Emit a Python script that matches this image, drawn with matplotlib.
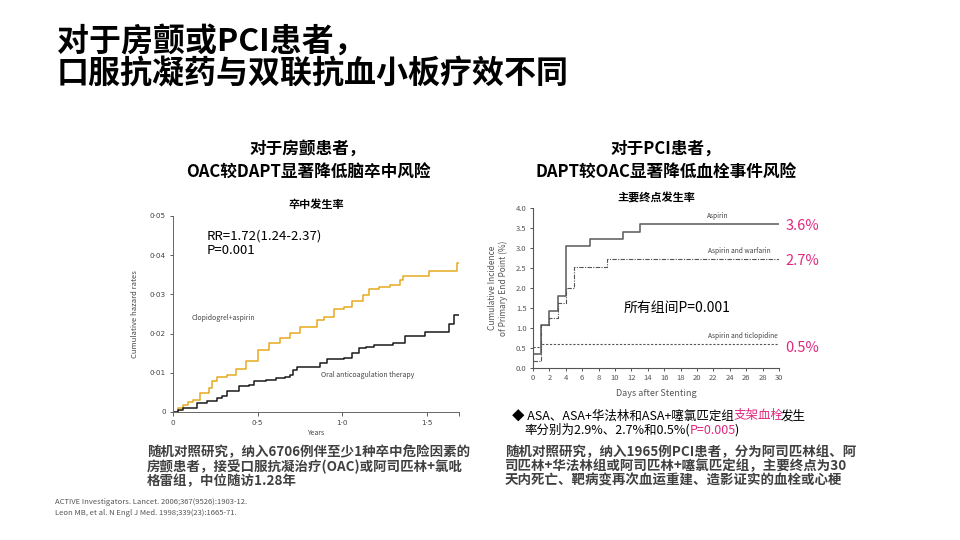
import matplotlib
matplotlib.use('Agg')
import matplotlib.pyplot as plt

plt.rcParams['font.family'] = ['Noto Sans CJK SC', 'DejaVu Sans']

# Left chart: cumulative hazard of stroke (years)
years_ca = [0, 0.03, 0.06, 0.09, 0.12, 0.16, 0.21, 0.23, 0.26, 0.32, 0.37, 0.43, 0.50, 0.57,
            0.63, 0.69, 0.75, 0.85, 0.89, 0.95, 1.01, 1.06, 1.12, 1.16, 1.22, 1.28, 1.34,
            1.36, 1.51, 1.68, 1.69]
rate_ca = [0, 0.001, 0.0018, 0.0025, 0.0031, 0.0048, 0.006, 0.0078, 0.009, 0.0095, 0.011,
           0.0129, 0.0158, 0.0175, 0.0188, 0.0201, 0.0218, 0.0235, 0.0243, 0.0264, 0.0269,
           0.0284, 0.0298, 0.0315, 0.032, 0.0324, 0.0336, 0.0347, 0.036, 0.0381, 0.0381]
years_oac = [0, 0.03, 0.06, 0.14, 0.20, 0.26, 0.29, 0.32, 0.39, 0.45, 0.48, 0.55, 0.61, 0.66,
             0.69, 0.71, 0.73, 0.87, 0.91, 1.01, 1.06, 1.10, 1.14, 1.19, 1.30, 1.37, 1.49,
             1.63, 1.66, 1.69]
rate_oac = [0, 0.0006, 0.001, 0.0023, 0.0029, 0.0036, 0.004, 0.0053, 0.0067, 0.007, 0.0078,
            0.0082, 0.0086, 0.009, 0.0095, 0.0108, 0.0116, 0.0125, 0.0135, 0.0137, 0.015,
            0.0163, 0.0167, 0.0172, 0.0175, 0.0193, 0.0203, 0.0225, 0.0247, 0.0247]

# Right chart: cumulative incidence of primary end point (days)
days_asa = [0, 1, 2, 3, 4, 7, 11, 13, 30]
inc_asa = [0.35, 1.08, 1.43, 1.80, 3.05, 3.23, 3.41, 3.60, 3.60]
days_war = [0, 1, 2, 3, 4, 5, 9, 30]
inc_war = [0.17, 1.07, 1.25, 1.63, 2.00, 2.53, 2.72, 2.72]
days_tic = [0, 1, 30]
inc_tic = [0.53, 0.59, 0.59]

left_yticks = [0, 0.01, 0.02, 0.03, 0.04, 0.05]
left_yticklabels = ['0', '0·01', '0·02', '0·03', '0·04', '0·05']
left_xticks = [0, 0.5, 1.0, 1.5]
left_xticklabels = ['0', '0·5', '1·0', '1·5']
right_yticks = [0, 0.5, 1.0, 1.5, 2.0, 2.5, 3.0, 3.5, 4.0]
right_xticks = list(range(0, 31, 2))
pct_labels = ['3.6%', '2.7%', '0.5%']

magenta = '#E0287F'
grey = '#555555'
latin = ['DejaVu Sans']

fig = plt.figure(figsize=(9.6, 5.4), dpi=100)
fig.patch.set_facecolor('white')


def px(x, y):
    return x / 960, 1 - y / 540


# Main title
fig.text(*px(57, 42), '对于房颤或PCI患者，', fontsize=23, fontweight='bold', va='center', color='black')
fig.text(*px(57, 75), '口服抗凝药与双联抗血小板疗效不同', fontsize=23, fontweight='bold', va='center', color='black')

# Section headings
fig.text(*px(308, 149), '对于房颤患者，', fontsize=12, fontweight='bold', ha='center', va='center')
fig.text(*px(308, 173), 'OAC较DAPT显著降低脑卒中风险', fontsize=12, fontweight='bold', ha='center', va='center')
fig.text(*px(666, 149), '对于PCI患者，', fontsize=12, fontweight='bold', ha='center', va='center')
fig.text(*px(666, 173), 'DAPT较OAC显著降低血栓事件风险', fontsize=12, fontweight='bold', ha='center', va='center')

# ---------------- Left chart ----------------
ax1 = fig.add_axes([173 / 960, 1 - 412 / 540, 286 / 960, 196 / 540])
ax1.step(years_ca, rate_ca, where='post', color='#E6AA1E', lw=1.1)
ax1.step(years_oac, rate_oac, where='post', color='#1a1a1a', lw=1.1)
ax1.set_xlim(0, 1.69)
ax1.set_ylim(0, 0.05)
ax1.set_yticks(left_yticks)
ax1.set_yticklabels(left_yticklabels, family=latin)
ax1.set_xticks(left_xticks)
ax1.set_xticklabels(left_xticklabels, family=latin)
ax1.set_xticks([1.69], minor=True)
for s in ['top', 'right']:
    ax1.spines[s].set_visible(False)
for s in ['left', 'bottom']:
    ax1.spines[s].set_color('#666666')
    ax1.spines[s].set_linewidth(0.7)
ax1.tick_params(which='both', labelsize=5.2, colors='#444444', width=0.6, length=3, pad=3)
ax1.tick_params(axis='y', length=2)
ax1.set_xlabel('Years', fontsize=5, color='#444444', labelpad=2)
ax1.set_ylabel('Cumulative hazard rates', fontsize=5.5, color='#444444', labelpad=8)
ax1.set_title('卒中发生率', fontsize=8, fontweight='bold', pad=6)
ax1.text(0.2, 0.0448, 'RR=1.72(1.24-2.37)', fontsize=9.5, va='center')
ax1.text(0.2, 0.0412, 'P=0.001', fontsize=9.5, va='center')
ax1.text(0.3, 0.024, 'Clopidogrel+aspirin', fontsize=5, color='#444444', ha='center', va='center')
ax1.text(1.15, 0.0095, 'Oral anticoagulation therapy', fontsize=5, color='#444444', ha='center', va='center')

# ---------------- Right chart ----------------
ax2 = fig.add_axes([533 / 960, 1 - 368 / 540, 246 / 960, 160 / 540])
ax2.step(days_asa, inc_asa, where='post', color='#666666', lw=1.2)
ax2.step(days_war, inc_war, where='post', color='#555555', lw=0.8, dashes=(4, 1.2, 1, 1.2))
ax2.step(days_tic, inc_tic, where='post', color='#555555', lw=0.8, dashes=(2, 1.5))
ax2.set_xlim(0, 30)
ax2.set_ylim(0, 4.0)
ax2.set_yticks(right_yticks)
ax2.set_yticklabels([f'{v:.1f}' for v in right_yticks])
ax2.set_xticks(right_xticks)
for s in ['top', 'right']:
    ax2.spines[s].set_visible(False)
for s in ['left', 'bottom']:
    ax2.spines[s].set_color(grey)
    ax2.spines[s].set_linewidth(0.8)
ax2.tick_params(labelsize=5.5, colors=grey, width=0.7, length=2.5, pad=2)
ax2.set_xlabel('Days after Stenting', fontsize=6.5, color=grey, labelpad=5)
ax2.set_ylabel('Cumulative Incidence\nof Primary End Point (%)', fontsize=6, color=grey, labelpad=6)
ax2.set_title('主要终点发生率', fontsize=8, fontweight='bold', pad=5)
ax2.text(22.5, 3.71, 'Aspirin', fontsize=4.8, color='#444444', ha='center', va='bottom')
ax2.text(25.2, 2.83, 'Aspirin and warfarin', fontsize=4.8, color='#444444', ha='center', va='bottom')
ax2.text(25.6, 0.70, 'Aspirin and ticlopidine', fontsize=4.8, color='#444444', ha='center', va='bottom')
ax2.text(17.6, 1.5, '所有组间P=0.001', fontsize=10, ha='center', va='center')
for val, lab in zip([inc_asa[-1], inc_war[-1], inc_tic[-1]], pct_labels):
    ax2.text(30.8, val - 0.08 if lab == '0.5%' else val - 0.05, lab, fontsize=10.5, color=magenta,
             ha='left', va='center', clip_on=False)

# ---------------- Bullet text with coloured pieces ----------------
renderer = fig.canvas.get_renderer()


def text_width(s, size):
    t = fig.text(0, 0, s, fontsize=size)
    w = t.get_window_extent(renderer=renderer).width
    t.remove()
    return w


def rich_line(x, y, parts, size):
    # each piece starts where the previous piece ends (pull = small kerning fix in px)
    for s, c, pull in parts:
        x -= pull
        fig.text(*px(x, y), s, color=c, fontsize=size, va='center')
        x += text_width(s, size)


rich_line(512, 416, [('◆ ASA、ASA+华法林和ASA+噻氯匹定组', 'black', 0), ('支架血栓', magenta, 0),
                     ('发生', 'black', 3)], 9)
rich_line(524, 430, [('率分别为2.9%、2.7%和0.5%(', 'black', 0), ('P=0.005', magenta, 0),
                     (')', 'black', 1.5)], 9)

# ---------------- Description paragraphs ----------------
left_lines = ['随机对照研究，纳入6706例伴至少1种卒中危险因素的',
              '房颤患者，接受口服抗凝治疗(OAC)或阿司匹林+氯吡',
              '格雷组，中位随访1.28年']
right_lines = ['随机对照研究，纳入1965例PCI患者，分为阿司匹林组、阿',
               '司匹林+华法林组或阿司匹林+噻氯匹定组，主要终点为30',
               '天内死亡、靶病变再次血运重建、造影证实的血栓或心梗']
for i, line in enumerate(left_lines):
    fig.text(*px(147, 452 + 14.5 * i), line, fontsize=9.7, fontweight='bold', color='#404040', va='center')
for i, line in enumerate(right_lines):
    fig.text(*px(505, 452 + 14.5 * i), line, fontsize=9.7, fontweight='bold', color='#404040', va='center')

# References
fig.text(*px(55, 502), 'ACTIVE Investigators. Lancet. 2006;367(9526):1903-12.', fontsize=5.5, color='#555555', va='center')
fig.text(*px(55, 513), 'Leon MB, et al. N Engl J Med. 1998;339(23):1665-71.', fontsize=5.5, color='#555555', va='center')

fig.savefig('out.png', dpi=100)
